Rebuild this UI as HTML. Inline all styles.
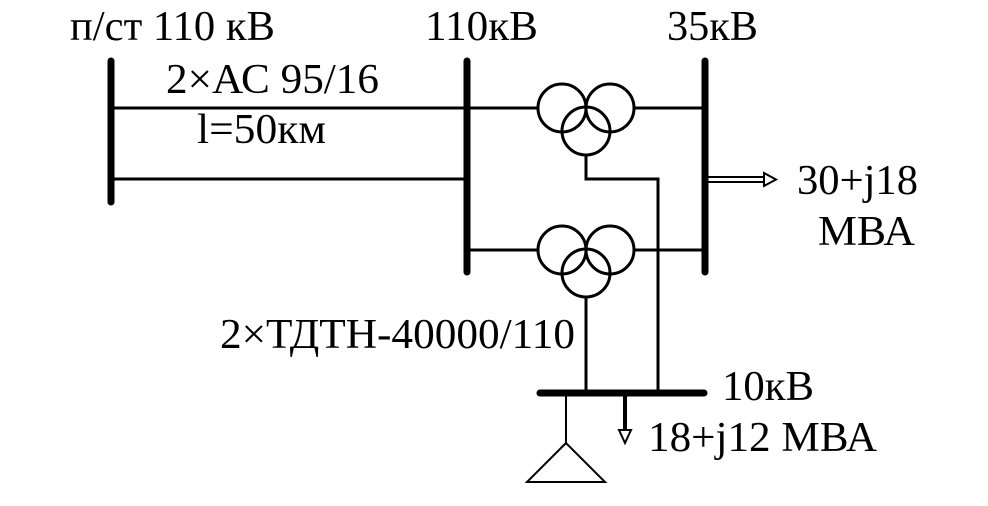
<!DOCTYPE html>
<html><head><meta charset="utf-8"><style>
html,body{margin:0;padding:0;background:#fff;width:988px;height:506px;overflow:hidden}
text{font-family:"Liberation Serif",serif;font-size:42px;fill:#000}
</style></head><body>
<svg width="988" height="506" viewBox="0 0 988 506" xmlns="http://www.w3.org/2000/svg">
<g stroke="#000" fill="none" stroke-linecap="round">
<line x1="111" y1="61" x2="111" y2="202" stroke-width="7"/>
<line x1="467" y1="61" x2="467" y2="272" stroke-width="7"/>
<line x1="705" y1="61" x2="705" y2="272" stroke-width="7"/>
<line x1="540" y1="393" x2="704" y2="393" stroke-width="7"/>
</g>
<g stroke="#000" fill="none" stroke-width="3">
<line x1="111" y1="108" x2="467" y2="108"/>
<line x1="111" y1="179" x2="467" y2="179"/>
<line x1="467" y1="108" x2="538" y2="108"/>
<line x1="634" y1="108" x2="705" y2="108"/>
<line x1="467" y1="250" x2="538" y2="250"/>
<line x1="634" y1="250" x2="705" y2="250"/>
<circle cx="562" cy="108" r="24"/>
<circle cx="610" cy="108" r="24"/>
<circle cx="586" cy="131" r="24"/>
<circle cx="562" cy="250" r="24"/>
<circle cx="610" cy="250" r="24"/>
<circle cx="586" cy="273" r="24"/>
<polyline points="586,155 586,179 658,179 658,393"/>
<line x1="586" y1="297" x2="586" y2="393"/>
<line x1="566" y1="393" x2="566" y2="443" stroke-width="2"/>
<polygon points="566,443 527,482 605,482" stroke-width="2"/>
<line x1="625" y1="393" x2="625" y2="432" stroke-width="4"/>
<line x1="708" y1="177" x2="766" y2="177" stroke-width="2"/>
<line x1="708" y1="182" x2="766" y2="182" stroke-width="2"/>
<polygon points="764,173 776,179.5 764,186" stroke-width="2" fill="#fff"/>
</g>
<polygon points="619,430 631,430 625,443" fill="#fff" stroke="#000" stroke-width="2"/>
<text x="70" y="40" textLength="205" lengthAdjust="spacingAndGlyphs">п/ст 110 кВ</text>
<text x="425" y="40" textLength="113" lengthAdjust="spacingAndGlyphs">110кВ</text>
<text x="667" y="40" textLength="91" lengthAdjust="spacingAndGlyphs">35кВ</text>
<text x="166" y="93" textLength="213" lengthAdjust="spacingAndGlyphs">2×АС 95/16</text>
<text x="197" y="143" textLength="129" lengthAdjust="spacingAndGlyphs">l=50км</text>
<text x="797" y="194" textLength="121" lengthAdjust="spacingAndGlyphs">30+j18</text>
<text x="818" y="245" textLength="97" lengthAdjust="spacingAndGlyphs">МВА</text>
<text x="220" y="348" textLength="355" lengthAdjust="spacingAndGlyphs">2×ТДТН-40000/110</text>
<text x="722" y="400" textLength="92" lengthAdjust="spacingAndGlyphs">10кВ</text>
<text x="648" y="451" textLength="229" lengthAdjust="spacingAndGlyphs">18+j12 МВА</text>
</svg>
</body></html>
